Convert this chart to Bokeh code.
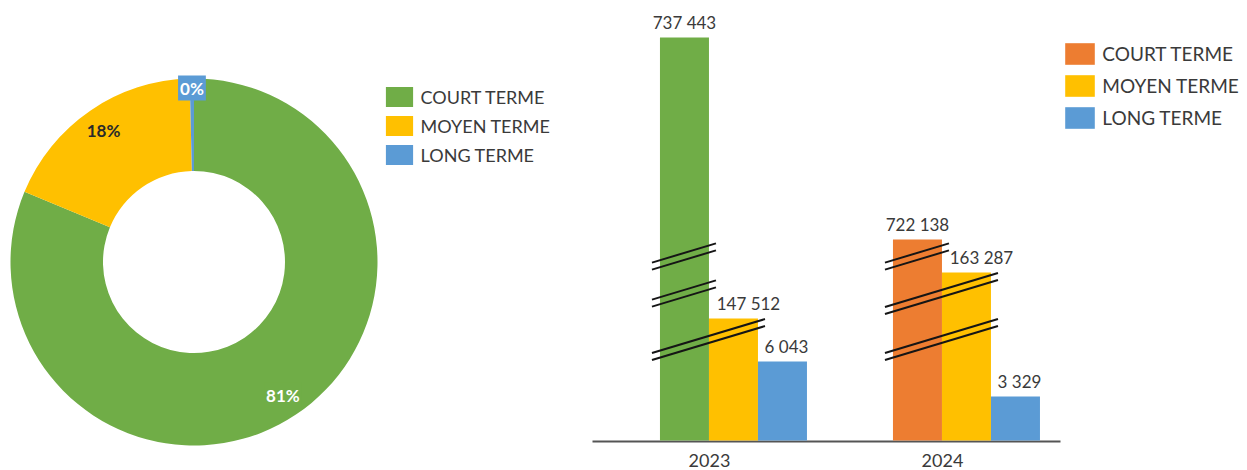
import numpy as np
from bokeh.plotting import figure
from bokeh.models import ColumnDataSource, Range1d, Legend, LegendItem
from bokeh.layouts import row
from bokeh.embed import file_html
from bokeh.resources import INLINE
from bokeh.core.properties import value

# ---------------- data ----------------
terms = ["COURT TERME", "MOYEN TERME", "LONG TERME"]
years = ["2023", "2024"]
values_2023 = [737443, 147512, 6043]
values_2024 = [722138, 163287, 3329]

# broken value axis of the bar chart: value -> drawn height
axis_break_values = [0, 3329, 6043, 147512, 163287, 722138, 737443]
axis_break_heights = [0, 45, 80, 123, 169, 202, 404]
break_levels = [185, 148, 102]

donut_colors = ["#70AD47", "#FFC000", "#5B9BD5"]
bar_colors = {"2023": ["#70AD47", "#FFC000", "#5B9BD5"],
              "2024": ["#ED7D31", "#FFC000", "#5B9BD5"]}

FONT = "Lato"
TXT = "#3a3a3a"
H = 470
BASE = 441          # pixel row of the value-axis baseline
W1 = 583
W2 = 1247 - W1

# ---------------- donut ----------------
left = figure(width=W1, height=H, x_range=Range1d(0, W1), y_range=Range1d(BASE - H, BASE),
              output_backend="svg", toolbar_location=None, min_border=0,
              x_axis_location=None, y_axis_location=None, outline_line_color=None)
left.grid.visible = False

cx, cy = 193.5, BASE - 261.5
r_in, r_out = 91, 183.5
vals = np.array(values_2024, dtype=float)
frac = vals / vals.sum()
cum = np.concatenate([[0.0], np.cumsum(frac)])
start = np.pi / 2 - cum[:-1] * 2 * np.pi
end = np.pi / 2 - cum[1:] * 2 * np.pi
mid = (start + end) / 2
label_r = np.array([160, 160, 174])
pct = [f"{int(round(f * 100))}%" for f in frac]

dsrc = ColumnDataSource(dict(start=start, end=end, color=donut_colors, term=terms,
                             lx=cx + label_r * np.cos(mid), ly=cy + label_r * np.sin(mid),
                             pct=pct, tcolor=["#ffffff", "#2a2a2a", "#ffffff"]))
wedges = left.annular_wedge(x=cx, y=cy, inner_radius=r_in, outer_radius=r_out,
                            start_angle="start", end_angle="end", direction="clock",
                            fill_color="color", line_color=None, source=dsrc)
left.text(x="lx", y="ly", text="pct", source=dsrc, text_align="center",
          text_baseline="middle", text_font=value(FONT), text_font_style="bold",
          text_font_size="17px", text_color="tcolor",
          background_fill_color="color", padding=2)

# legend location = bottom-left corner, measured from the frame's bottom-left
left_legend = Legend(items=[LegendItem(label=t, renderers=[wedges], index=i) for i, t in enumerate(terms)],
                     location=(381.6, H - 167), glyph_width=34, glyph_height=25, spacing=4,
                     label_standoff=5, padding=0, margin=0, border_line_color=None,
                     background_fill_alpha=0, label_text_font=FONT, label_text_font_size="18px",
                     label_text_color=TXT)
left.add_layout(left_legend)

# ---------------- bars ----------------
px_per_x = 233.0
x_start = -0.605 - (592 - W1) / px_per_x
xr = Range1d(x_start, x_start + W2 / px_per_x)
right = figure(width=W2, height=H, x_range=xr, y_range=Range1d(BASE - H, BASE),
               output_backend="svg", toolbar_location=None, min_border=0,
               x_axis_location=None, y_axis_location=None, outline_line_color=None)
right.grid.visible = False

bw = 49 / px_per_x
offsets = [-bw, 0.0, bw]
label_dx = [0, 15, 4]

# baseline of the value axis
axis_x0 = x_start + (592 - W1) / px_per_x
axis_x1 = x_start + (1060 - W1) / px_per_x
right.segment(x0=[axis_x0], y0=[0], x1=[axis_x1], y1=[0], line_color="#555555", line_width=2)

# year labels (category axis)
label_shift = -24 / px_per_x
right.text(x=[i + label_shift for i in range(len(years))], y=[-18.5] * len(years), text=years,
           text_align="center", text_baseline="middle", text_font=value(FONT),
           text_font_size="18px", text_color=TXT)

def shown(v):
    return np.interp(v, axis_break_values, axis_break_heights)

values_by_year = {"2023": values_2023, "2024": values_2024}
bar_renderers = []
tops_all = {}
for j, t in enumerate(terms):
    xs = np.arange(len(years)) + offsets[j]
    vs = [values_by_year[y][j] for y in years]
    tops = shown(vs)
    tops_all[t] = tops
    src = ColumnDataSource(dict(x=xs, top=tops, color=[bar_colors[y][j] for y in years],
                                lab=[f"{v:,}".replace(",", " ") for v in vs]))
    r = right.vbar(x="x", top="top", bottom=1, width=bw, fill_color="color",
                   line_color=None, source=src)
    bar_renderers.append(r)
    right.text(x="x", y="top", text="lab", source=src, x_offset=label_dx[j], y_offset=-15,
               text_align="center", text_baseline="alphabetic", text_font=value(FONT),
               text_font_size="17px", text_color=TXT)

# break marks (double slanted lines) across bars taller than each break level
slope = 0.3
sx0, sy0, sx1, sy1 = [], [], [], []
for gi, y in enumerate(years):
    for L in break_levels:
        crossed = [j for j, t in enumerate(terms) if tops_all[t][gi] > L + 8]
        if not crossed:
            continue
        xa = gi + offsets[crossed[0]] - bw / 2 - 8 / px_per_x
        xb = gi + offsets[crossed[-1]] + bw / 2 + 7 / px_per_x
        xc = (xa + xb) / 2
        for d in (-3.5, 3.5):
            sx0.append(xa); sx1.append(xb)
            sy0.append(L + d + slope * (xa - xc) * px_per_x)
            sy1.append(L + d + slope * (xb - xc) * px_per_x)
right.segment(x0=sx0, y0=sy0, x1=sx1, y1=sy1, line_color="#151515", line_width=2)

right_legend = Legend(items=[LegendItem(label=t, renderers=[bar_renderers[j]], index=1)
                             for j, t in enumerate(terms)],
                     location=(1061.3 - W1, H - 131.3), glyph_width=37, glyph_height=27, spacing=5,
                     label_standoff=4, padding=0, margin=0, border_line_color=None,
                     background_fill_alpha=0, label_text_font=FONT, label_text_font_size="19px",
                     label_text_color=TXT)
right.add_layout(right_legend)

layout = row(left, right)
open("out.html", "w").write(file_html(layout, INLINE))
